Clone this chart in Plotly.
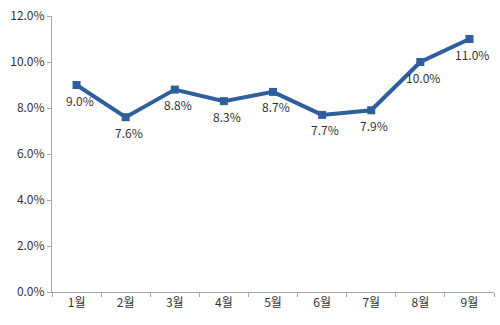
import plotly.graph_objects as go

months = ["1월", "2월", "3월", "4월", "5월", "6월", "7월", "8월", "9월"]
rates = [9.0, 7.6, 8.8, 8.3, 8.7, 7.7, 7.9, 10.0, 11.0]
y_ticks = [0, 2, 4, 6, 8, 10, 12]

font_family = "Noto Sans CJK KR, DejaVu Sans, sans-serif"
line_color = "#2F5E9C"

fig = go.Figure(
    go.Scatter(
        x=months,
        y=rates,
        mode="lines+markers",
        line=dict(color=line_color, width=4),
        marker=dict(symbol="square", size=8, color=line_color),
        cliponaxis=False,
    )
)

# value labels sit just below and slightly right of each point
for m, v in zip(months, rates):
    fig.add_annotation(
        x=m,
        y=v,
        text=f"{v:.1f}%",
        showarrow=False,
        xshift=3,
        yshift=-15,
        font=dict(family=font_family, size=12, color="#333333"),
    )

fig.update_layout(
    width=500,
    height=325,
    margin=dict(l=52, r=6, t=12, b=33),
    paper_bgcolor="white",
    plot_bgcolor="white",
    showlegend=False,
    font=dict(family=font_family, size=12, color="#333333"),
)

fig.update_xaxes(
    type="category",
    range=[-0.5, len(months) - 0.5],
    showline=True,
    linecolor="#a6a6a6",
    linewidth=1,
    ticks="outside",
    tickson="boundaries",
    ticklen=4,
    tickcolor="#a6a6a6",
    showgrid=False,
    tickfont=dict(size=12, color="#333333"),
)

fig.update_yaxes(
    range=[0, 12],
    tickvals=y_ticks,
    ticktext=[f"{v:.1f}%" for v in y_ticks],
    showline=True,
    linecolor="#a6a6a6",
    linewidth=1,
    ticks="outside",
    ticklen=4,
    tickcolor="#a6a6a6",
    showgrid=False,
    zeroline=False,
    tickfont=dict(size=12, color="#333333"),
)

fig.write_html("out.html")
